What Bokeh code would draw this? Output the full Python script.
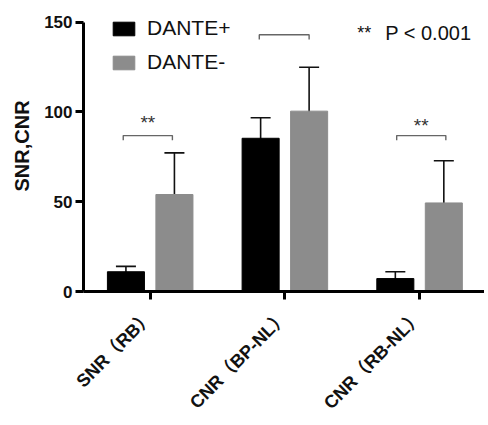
from bokeh.plotting import figure
from bokeh.models import (ColumnDataSource, FixedTicker, Whisker, TeeHead, Legend,
                          LegendItem, Label, Range1d)
from bokeh.core.properties import value
from bokeh.embed import file_html
from bokeh.resources import INLINE

# ---- data ----
categories = ["SNR（RB）", "CNR（BP-NL）", "CNR（RB-NL）"]
series_names = ["DANTE+", "DANTE-"]
dante_pos_mean = [11.0, 85.3, 7.2]
dante_pos_sd = [3.0, 11.4, 3.8]
dante_neg_mean = [54.0, 100.4, 49.3]
dante_neg_sd = [23.2, 24.4, 23.5]
y_ticks = [0, 50, 100, 150]
# significance brackets (per category): left/right offsets, height, star label
bracket_left = [-0.20, -0.19, -0.17]
bracket_right = [0.165, 0.18, 0.195]
bracket_y = [86.8, 142.9, 86.8]
bracket_stars = ["**", "", "**"]
stars_y = [94.3, 0, 92.3]
note_marker = "**"
note_text = "P < 0.001"

FONT = "Liberation Sans, Noto Sans CJK SC"
BLACK = "#000000"
GRAY = "#8c8c8c"

offset = 0.18
bar_w = 0.275
xpos = list(range(len(categories)))
x_pos_bars = [x - offset for x in xpos]
x_neg_bars = [x + offset for x in xpos]

src_pos = ColumnDataSource(dict(
    x=x_pos_bars, top=dante_pos_mean,
    upper=[m + s for m, s in zip(dante_pos_mean, dante_pos_sd)],
    lower=[m - s for m, s in zip(dante_pos_mean, dante_pos_sd)]))
src_neg = ColumnDataSource(dict(
    x=x_neg_bars, top=dante_neg_mean,
    upper=[m + s for m, s in zip(dante_neg_mean, dante_neg_sd)],
    lower=[m - s for m, s in zip(dante_neg_mean, dante_neg_sd)]))

p = figure(width=484, height=423, output_backend="svg", toolbar_location=None,
           x_range=Range1d(-0.495, 2.482), y_range=Range1d(0, 162.0),
           min_border_left=83, min_border_right=0, min_border_top=0,
           min_border_bottom=131)
p.outline_line_color = None
p.xgrid.visible = False
p.ygrid.visible = False
p.background_fill_color = "white"

r_pos = p.vbar(x="x", top="top", width=bar_w, bottom=0, source=src_pos,
               fill_color=BLACK, line_color=BLACK)
r_neg = p.vbar(x="x", top="top", width=bar_w, bottom=0, source=src_neg,
               fill_color=GRAY, line_color=GRAY)

for src in (src_pos, src_neg):
    w = Whisker(base="x", upper="upper", lower="lower", source=src,
                line_color="#111111", line_width=1.6,
                upper_head=TeeHead(size=20, line_color="#111111", line_width=1.6),
                lower_head=TeeHead(size=20, line_color="#111111", line_width=1.6))
    p.add_layout(w)

# brackets
leg = 2.6
bx, by = [], []
for i, x in enumerate(xpos):
    l = x + bracket_left[i]
    r = x + bracket_right[i]
    yb = bracket_y[i]
    bx.append([l, l, r, r])
    by.append([yb - leg, yb, yb, yb - leg])
p.multi_line(xs=bx, ys=by, line_color="#666666", line_width=1.4)

sx, sy, st = [], [], []
for i, x in enumerate(xpos):
    if bracket_stars[i]:
        sx.append(x + (bracket_left[i] + bracket_right[i]) / 2)
        sy.append(stars_y[i])
        st.append(bracket_stars[i])
p.text(x=sx, y=sy, text=st, text_font=value(FONT), text_font_size="19px",
       text_color="#333333", text_align="center", text_baseline="alphabetic")

p.add_layout(Label(x=1.537, y=144, text=note_marker, text_font=FONT,
                   text_font_size="18px", text_color="#111111",
                   text_baseline="alphabetic"))
p.add_layout(Label(x=1.745, y=144, text=note_text, text_font=FONT,
                   text_font_size="20px", text_color="#111111",
                   text_baseline="alphabetic"))

# legend
legend = Legend(items=[LegendItem(label=series_names[0], renderers=[r_pos]),
                       LegendItem(label=series_names[1], renderers=[r_neg])],
                location=(27, 217), orientation="vertical",
                glyph_width=27, glyph_height=17, label_height=20,
                label_standoff=10, spacing=10, padding=0, margin=0,
                border_line_alpha=0, background_fill_alpha=0,
                label_text_font=FONT, label_text_font_size="21px",
                label_text_color="#111111")
p.add_layout(legend)

# axes
ax = p.xaxis[0]
ax.ticker = FixedTicker(ticks=xpos)
ax.major_label_overrides = {i: c for i, c in enumerate(categories)}
ax.major_label_orientation = 0.785398
ax.major_label_text_font = FONT
ax.major_label_text_font_style = "bold"
ax.major_label_text_font_size = "18px"
ax.major_label_text_color = "#111111"
ax.major_label_standoff = 14
ax.axis_line_width = 3
ax.major_tick_line_width = 3
ax.major_tick_out = 8
ax.major_tick_in = 0
ax.minor_tick_line_color = None

ay = p.yaxis[0]
ay.ticker = FixedTicker(ticks=y_ticks)
ay.bounds = (0, 150)
ay.axis_label = "SNR,CNR"
ay.axis_label_text_font = FONT
ay.axis_label_text_font_style = "bold"
ay.axis_label_text_font_size = "20px"
ay.axis_label_text_color = "#111111"
ay.axis_label_standoff = 8
ay.major_label_text_font = FONT
ay.major_label_text_font_style = "bold"
ay.major_label_text_font_size = "17px"
ay.major_label_text_color = "#111111"
ay.major_label_standoff = 3
ay.axis_line_width = 3
ay.major_tick_line_width = 3
ay.major_tick_out = 8
ay.major_tick_in = 0
ay.minor_tick_line_color = None

open("out.html", "w").write(file_html(p, INLINE))
